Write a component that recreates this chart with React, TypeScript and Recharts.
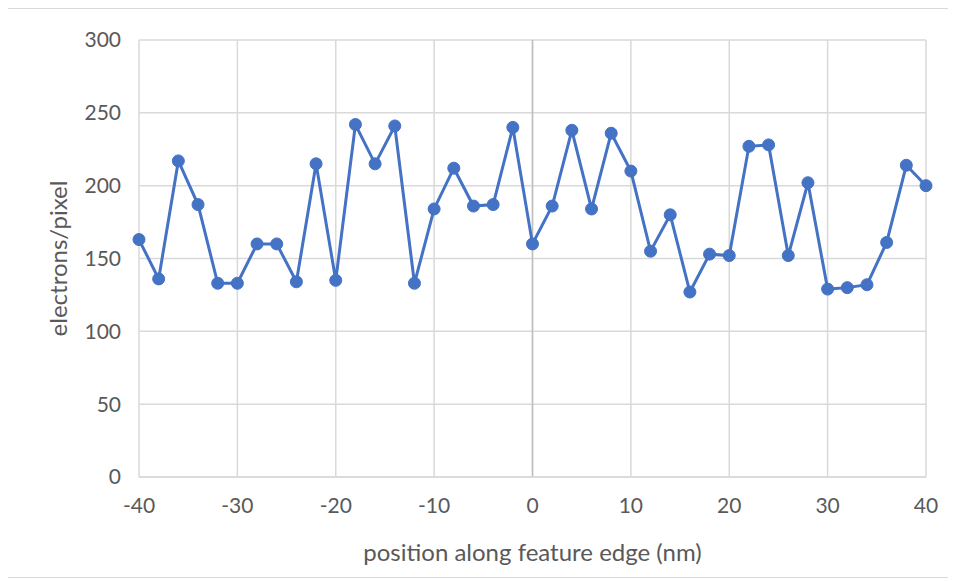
import { LineChart, Line, XAxis, YAxis, CartesianGrid, ReferenceLine } from "recharts";

const positions = [
  -40, -38, -36, -34, -32, -30, -28, -26, -24, -22, -20, -18, -16, -14, -12, -10, -8, -6, -4, -2,
  0, 2, 4, 6, 8, 10, 12, 14, 16, 18, 20, 22, 24, 26, 28, 30, 32, 34, 36, 38, 40,
];
const electrons = [
  163, 136, 217, 187, 133, 133, 160, 160, 134, 215, 135, 242, 215, 241, 133, 184, 212, 186, 187, 240,
  160, 186, 238, 184, 236, 210, 155, 180, 127, 153, 152, 227, 228, 152, 202, 129, 130, 132, 161, 214, 200,
];
const xTicks = [-40, -30, -20, -10, 0, 10, 20, 30, 40];
const yTicks = [0, 50, 100, 150, 200, 250, 300];

const data = positions.map((p, i) => ({ position: p, electrons: electrons[i] }));

const font = "Lato, 'Open Sans', sans-serif";
const tickStyle = { fill: "#595959", fontSize: 21, fontFamily: font };

export default function App() {
  return (
    <div
      style={{
        marginLeft: -5,
        width: 953,
        height: 570,
        border: "1px solid #d9d9d9",
        boxSizing: "border-box",
        background: "#fff",
      }}
    >
      <LineChart
        width={951}
        height={568}
        data={data}
        margin={{ top: 31, right: 29, left: 0, bottom: 0 }}
      >
        <CartesianGrid stroke="#d9d9d9" strokeWidth={1.5} />
        <XAxis
          type="number"
          dataKey="position"
          domain={[-40, 40]}
          ticks={xTicks}
          axisLine={{ stroke: "#d9d9d9", strokeWidth: 1.5 }}
          tickLine={false}
          tickSize={0}
          tickMargin={21}
          height={100}
          tick={tickStyle}
          label={{
            value: "position along feature edge (nm)",
            position: "insideBottom",
            offset: 16,
            style: { fill: "#595959", fontSize: 24, fontFamily: font },
          }}
        />
        <YAxis
          type="number"
          domain={[0, 300]}
          ticks={yTicks}
          axisLine={false}
          tickLine={false}
          tickSize={0}
          tickMargin={18}
          width={135}
          tick={tickStyle}
          label={{
            value: "electrons/pixel",
            angle: -90,
            position: "insideLeft",
            offset: 54,
            style: { fill: "#595959", fontSize: 24, fontFamily: font, textAnchor: "middle" },
          }}
        />
        <ReferenceLine x={0} stroke="#bfbfbf" strokeWidth={1.5} />
        <Line
          type="linear"
          dataKey="electrons"
          stroke="#4472c4"
          strokeWidth={3}
          dot={{ r: 6, fill: "#4472c4", stroke: "#4472c4", strokeWidth: 1 }}
          activeDot={false}
          isAnimationActive={false}
        />
      </LineChart>
    </div>
  );
}
